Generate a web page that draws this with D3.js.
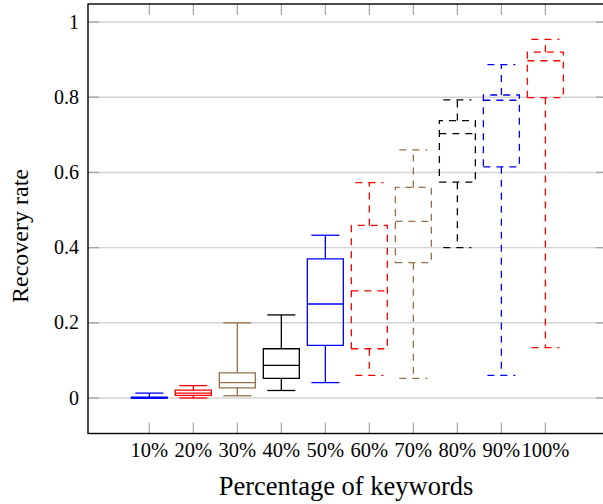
<!DOCTYPE html>
<html>
<head>
<meta charset="utf-8">
<script src="https://cdn.jsdelivr.net/npm/d3@7"></script>
<style>
  html, body { margin: 0; padding: 0; background: #fff; }
  svg { display: block; }
  text { font-family: "Liberation Serif", "Times New Roman", serif; fill: #000; }
</style>
</head>
<body>
<svg id="chart" width="603" height="504"></svg>
<script>
// ---- data ----
const categories = ["10%", "20%", "30%", "40%", "50%", "60%", "70%", "80%", "90%", "100%"];
const lowerWhisker  = [0.000, 0.000, 0.006, 0.020, 0.041, 0.060, 0.052, 0.400, 0.060, 0.134];
const lowerQuartile = [0.000, 0.007, 0.027, 0.052, 0.140, 0.131, 0.360, 0.574, 0.615, 0.799];
const medians       = [0.000, 0.013, 0.041, 0.087, 0.250, 0.285, 0.470, 0.703, 0.792, 0.897];
const upperQuartile = [0.002, 0.021, 0.067, 0.131, 0.370, 0.459, 0.560, 0.738, 0.806, 0.920];
const upperWhisker  = [0.013, 0.033, 0.200, 0.221, 0.433, 0.573, 0.660, 0.793, 0.887, 0.954];
const boxColors = ["#0000ff", "#ff0000", "#93704c", "#000000", "#0000ff", "#ff0000", "#93704c", "#000000", "#0000ff", "#ff0000"];
const dashedFlags = [false, false, false, false, false, true, true, true, true, true];
const yTicks = [0, 0.2, 0.4, 0.6, 0.8, 1];
const yTickLabels = ["0", "0.2", "0.4", "0.6", "0.8", "1"];

// ---- layout ----
const svg = d3.select("#chart");
const L = 88, R = 607, T = 4, B = 433.5;
const positions = categories.map((c, i) => i + 1);
const x = d3.scaleLinear().domain([-0.393, 11.4]).range([L, R]);
const y = d3.scaleLinear().domain([-0.0944, 1.048]).range([B, T]);
const boxHalf = 18;
const capHalf = 14;
const tickLen = 11;

// grid
svg.append("g").selectAll("line").data(yTicks).join("line")
  .attr("x1", L).attr("x2", R)
  .attr("y1", d => y(d)).attr("y2", d => y(d))
  .attr("stroke", "#d4d4d4").attr("stroke-width", 1.4);

// y ticks (left & right, inward)
const yt = svg.append("g");
yt.selectAll("line.l").data(yTicks).join("line").attr("class", "l")
  .attr("x1", L).attr("x2", L + tickLen)
  .attr("y1", d => y(d)).attr("y2", d => y(d))
  .attr("stroke", "#a6a6a6").attr("stroke-width", 1.4);
yt.selectAll("line.r").data(yTicks).join("line").attr("class", "r")
  .attr("x1", R - tickLen).attr("x2", R)
  .attr("y1", d => y(d)).attr("y2", d => y(d))
  .attr("stroke", "#a6a6a6").attr("stroke-width", 1.4);
yt.selectAll("text").data(yTicks).join("text")
  .attr("x", 79).attr("y", d => y(d)).attr("dy", "0.33em")
  .attr("text-anchor", "end").attr("font-size", 20)
  .text((d, i) => yTickLabels[i]);

// x ticks (bottom & top, inward)
const xt = svg.append("g");
xt.selectAll("line.b").data(positions).join("line").attr("class", "b")
  .attr("x1", d => x(d)).attr("x2", d => x(d))
  .attr("y1", B).attr("y2", B - tickLen)
  .attr("stroke", "#a6a6a6").attr("stroke-width", 1.2);
xt.selectAll("line.t").data(positions).join("line").attr("class", "t")
  .attr("x1", d => x(d)).attr("x2", d => x(d))
  .attr("y1", T).attr("y2", T + tickLen)
  .attr("stroke", "#a6a6a6").attr("stroke-width", 1.2);
xt.selectAll("text").data(positions).join("text")
  .attr("x", d => x(d)).attr("y", 457)
  .attr("text-anchor", "middle").attr("font-size", 20.5)
  .text((d, i) => categories[i]);

// boxes
const boxes = svg.append("g");
categories.forEach((c, i) => {
  const cx = x(positions[i]);
  const g = boxes.append("g")
    .attr("fill", "none")
    .attr("stroke", boxColors[i])
    .attr("stroke-width", 1.3)
    .attr("stroke-dasharray", dashedFlags[i] ? "7,6" : null);
  // box
  const p = d3.path();
  p.moveTo(cx - boxHalf, y(lowerQuartile[i]));
  p.lineTo(cx + boxHalf, y(lowerQuartile[i]));
  p.lineTo(cx + boxHalf, y(upperQuartile[i]));
  p.lineTo(cx - boxHalf, y(upperQuartile[i]));
  p.closePath();
  g.append("path").attr("d", p.toString());
  // median
  g.append("line").attr("x1", cx - boxHalf).attr("x2", cx + boxHalf)
    .attr("y1", y(medians[i])).attr("y2", y(medians[i]));
  // whiskers
  g.append("line").attr("x1", cx).attr("x2", cx)
    .attr("y1", y(upperQuartile[i])).attr("y2", y(upperWhisker[i]));
  g.append("line").attr("x1", cx).attr("x2", cx)
    .attr("y1", y(lowerQuartile[i])).attr("y2", y(lowerWhisker[i]));
  g.append("line").attr("x1", cx - capHalf).attr("x2", cx + capHalf)
    .attr("y1", y(upperWhisker[i])).attr("y2", y(upperWhisker[i]));
  g.append("line").attr("x1", cx - capHalf).attr("x2", cx + capHalf)
    .attr("y1", y(lowerWhisker[i])).attr("y2", y(lowerWhisker[i]));
});

// frame
svg.append("rect").attr("x", L).attr("y", T).attr("width", R - L).attr("height", B - T)
  .attr("fill", "none").attr("stroke", "#000").attr("stroke-width", 1.4);

// axis titles
svg.append("text").attr("x", 346).attr("y", 495)
  .attr("text-anchor", "middle").attr("font-size", 26.5)
  .text("Percentage of keywords");
svg.append("text")
  .attr("transform", "translate(28,236) rotate(-90)")
  .attr("text-anchor", "middle").attr("font-size", 24)
  .text("Recovery rate");
</script>
</body>
</html>
